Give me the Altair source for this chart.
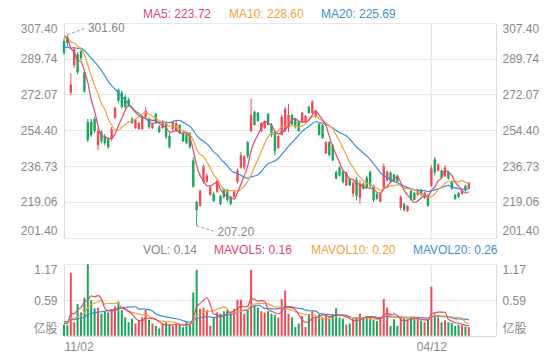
import altair as alt
import pandas as pd

# ---------------- data ----------------
opens = [298.5, 300.5, 273.0, 286.5, 292.0, 293.5, 283.0, 258.5, 258.5, 260.0,
         247.0, 253.5, 251.5, 250.0, 250.0, 260.5, 274.5, 273.0, 271.0, 269.5,
         260.0, 255.5, 255.0, 255.0, 261.0, 260.0, 255.5, 262.5, 256.0, 255.5,
         258.0, 251.5, 255.0, 254.0, 257.0, 253.0, 252.5, 253.0, 239.5, 219.0,
         217.0, 229.0, 229.0, 222.5, 223.0, 224.0, 222.0, 225.5, 225.0, 221.5,
         221.5, 229.0, 236.0, 236.0, 248.5, 254.0, 263.5, 263.0, 254.0, 255.5,
         262.5, 257.0, 253.5, 245.5, 252.0, 254.0, 256.0, 262.0, 260.0, 258.5,
         258.5, 258.5, 266.0, 263.0, 261.0, 257.5, 257.0, 243.0, 248.5, 247.0,
         233.8, 236.0, 233.8, 227.2, 230.5, 223.0, 230.0, 221.0, 228.0, 231.0,
         233.8, 227.0, 223.0, 219.0, 226.0, 229.5, 233.5, 232.5, 232.0, 216.0,
         218.0, 214.5, 224.5, 223.5, 222.5, 225.0, 221.0, 222.0, 227.0, 240.0,
         234.5, 234.5, 231.5, 233.8, 228.8, 222.5, 223.5, 223.0, 227.0, 225.5]
closes = [292.5, 297.5, 277.0, 294.5, 283.0, 290.0, 273.5, 249.5, 252.0, 254.0,
          254.0, 249.0, 248.0, 246.0, 255.0, 265.5, 269.0, 266.0, 266.0, 267.0,
          258.0, 259.5, 258.0, 261.0, 264.0, 256.0, 257.5, 258.0, 253.5, 259.0,
          251.0, 246.0, 258.5, 258.0, 253.0, 249.0, 248.0, 246.0, 226.5, 215.0,
          224.5, 236.5, 232.0, 226.5, 219.5, 229.5, 218.0, 221.5, 220.0, 218.0,
          224.0, 234.5, 242.0, 241.5, 241.5, 262.0, 257.0, 259.0, 258.0, 258.5,
          257.0, 252.0, 244.0, 251.5, 261.0, 265.0, 262.0, 257.5, 256.0, 254.0,
          263.0, 261.5, 263.0, 268.5, 264.0, 252.0, 250.5, 248.5, 242.0, 239.5,
          230.5, 232.0, 228.8, 233.5, 227.2, 228.5, 222.0, 228.0, 225.5, 226.0,
          227.0, 220.0, 220.5, 223.0, 236.5, 234.0, 229.0, 229.0, 229.0, 221.5,
          215.0, 217.0, 220.0, 220.0, 225.0, 222.5, 223.5, 217.0, 235.5, 233.5,
          237.5, 231.0, 236.0, 230.5, 225.5, 220.5, 221.5, 225.0, 224.5, 228.5]
highs = [300.0, 301.6, 282.5, 295.0, 293.0, 294.5, 284.0, 260.0, 260.0, 261.0,
         255.5, 254.5, 252.5, 251.0, 256.0, 266.0, 275.0, 274.0, 272.0, 270.5,
         261.0, 260.0, 258.5, 261.0, 266.0, 261.0, 258.0, 263.0, 257.0, 259.5,
         258.5, 253.0, 259.0, 259.0, 257.5, 254.0, 253.0, 253.5, 241.0, 219.5,
         225.0, 237.5, 233.0, 227.2, 224.0, 230.0, 222.5, 226.0, 225.5, 222.0,
         224.5, 235.4, 243.6, 242.0, 249.0, 270.0, 264.0, 263.5, 258.5, 259.0,
         263.0, 258.0, 254.0, 252.0, 262.0, 266.0, 267.5, 262.5, 260.5, 259.0,
         263.5, 262.0, 266.5, 269.2, 264.5, 258.0, 257.5, 249.0, 249.0, 247.5,
         234.5, 236.5, 234.5, 234.0, 231.0, 229.2, 231.3, 229.6, 228.5, 232.0,
         234.5, 227.5, 223.5, 223.5, 237.9, 234.5, 234.0, 233.0, 232.5, 222.2,
         218.5, 217.3, 225.0, 224.0, 225.5, 225.5, 224.0, 223.0, 237.0, 241.2,
         238.0, 235.0, 237.0, 234.5, 229.5, 223.0, 224.0, 225.5, 227.5, 228.8]
lows = [291.8, 296.0, 271.7, 285.0, 282.0, 289.0, 273.0, 248.6, 251.0, 253.0,
        244.5, 248.0, 247.0, 245.3, 249.0, 260.0, 268.0, 265.0, 265.0, 266.0,
        257.5, 255.0, 254.5, 254.5, 260.0, 255.0, 255.0, 257.5, 253.0, 255.0,
        250.0, 245.3, 254.0, 253.5, 252.5, 248.6, 247.5, 245.3, 226.0, 207.2,
        216.5, 228.0, 228.5, 222.0, 218.9, 223.5, 217.3, 220.5, 218.9, 217.3,
        221.0, 228.0, 235.4, 235.0, 240.5, 253.5, 256.8, 258.5, 253.5, 255.0,
        256.8, 251.0, 242.0, 245.3, 251.9, 253.5, 253.5, 257.0, 255.2, 253.5,
        258.0, 258.0, 262.5, 262.6, 260.5, 251.9, 250.0, 242.8, 241.5, 239.0,
        230.0, 231.5, 228.0, 227.0, 226.8, 221.4, 219.8, 218.1, 225.0, 225.5,
        225.5, 218.9, 220.0, 218.9, 225.5, 229.0, 228.8, 228.8, 228.8, 214.8,
        214.0, 214.0, 219.5, 219.8, 222.0, 222.0, 220.5, 216.5, 226.3, 232.1,
        234.0, 230.5, 231.3, 230.0, 225.0, 220.0, 221.0, 222.5, 224.0, 225.5]
volumes = [0.18, 0.17, 1.03, 0.22, 0.52, 0.38, 0.62, 1.17, 0.58, 0.45,
           0.46, 0.36, 0.40, 0.38, 0.44, 0.48, 0.56, 0.42, 0.30, 0.22,
           0.28, 0.20, 0.24, 0.30, 0.42, 0.26, 0.20, 0.16, 0.12, 0.20,
           0.22, 0.18, 0.16, 0.20, 0.18, 0.14, 0.22, 0.20, 0.71, 1.08,
           0.44, 0.46, 0.42, 0.16, 0.30, 0.38, 0.36, 0.40, 0.42, 0.38,
           0.44, 0.59, 0.59, 0.36, 0.44, 1.08, 0.50, 0.46, 0.40, 0.38,
           0.40, 0.36, 0.34, 0.30, 0.60, 0.74, 0.36, 0.30, 0.14, 0.20,
           0.32, 0.14, 0.35, 0.40, 0.30, 0.35, 0.30, 0.32, 0.28, 0.34,
           0.45, 0.30, 0.28, 0.18, 0.20, 0.28, 0.30, 0.36, 0.28, 0.32,
           0.30, 0.26, 0.24, 0.28, 0.60, 0.46, 0.16, 0.27, 0.16, 0.32,
           0.28, 0.26, 0.30, 0.27, 0.28, 0.24, 0.22, 0.26, 0.80, 0.35,
           0.30, 0.22, 0.25, 0.22, 0.21, 0.16, 0.18, 0.17, 0.15, 0.14]
# sessions before 11/02 (only used to seed the moving averages)
prior_close = [287, 289, 288, 291, 290, 292, 289, 291, 290, 293,
               296, 298, 300, 299, 302, 303, 302, 304, 303.5]
prior_vol = [0.28, 0.25, 0.30, 0.22, 0.26, 0.24, 0.27, 0.23, 0.25, 0.26,
             0.22, 0.24, 0.21, 0.25, 0.22, 0.20, 0.22, 0.19, 0.21]

date_ticks = ["11/02", "04/12"]
date_index = [0, 108]
price_ticks = [201.40, 219.06, 236.73, 254.40, 272.07, 289.74, 307.40]
vol_ticks = [0, 0.585, 1.17]
vol_tick_labels = ["亿股", "0.59", "1.17"]
price_legend = [("MA5", "223.72"), ("MA10", "228.60"), ("MA20", "225.69")]
vol_legend = [("VOL", "0.14"), ("MAVOL5", "0.16"), ("MAVOL10", "0.20"), ("MAVOL20", "0.26")]

# ---------------- derived table ----------------
N = len(closes)


def moving(values, prior, n):
    s = pd.Series(prior + values).rolling(n, min_periods=1).mean()
    return s.iloc[len(prior):].round(3).tolist()


df = pd.DataFrame({
    "i": list(range(N)), "open": opens, "close": closes, "high": highs, "low": lows,
    "vol": volumes, "zero": [0.0] * N,
    "ma5": moving(closes, prior_close, 5), "ma10": moving(closes, prior_close, 10),
    "ma20": moving(closes, prior_close, 20),
    "mv5": moving(volumes, prior_vol, 5), "mv10": moving(volumes, prior_vol, 10),
    "mv20": moving(volumes, prior_vol, 20),
})

# ---------------- style ----------------
W, H = 432, 313
PRICE_H = 214.5
VOL_TOP, VOL_BOT = 241.3, 312.7
X_MAX = 127
FONT = "Liberation Sans, Arial, Noto Sans CJK SC, sans-serif"
UP, DOWN = "#ee4b58", "#1ea35c"
C5, C10, C20 = "#e4486c", "#f5a23b", "#3d8fd6"
GRID, AXIS, LABEL = "#e8e8e8", "#dcdcdc", "#888888"

px_x = W / X_MAX
px_y = PRICE_H / (price_ticks[-1] - price_ticks[0])

xs = alt.Scale(domain=[0, X_MAX], nice=False, zero=False)
ps = alt.Scale(domain=[price_ticks[0], price_ticks[-1]], range=[PRICE_H, 0], nice=False, zero=False)
vs = alt.Scale(domain=[vol_ticks[0], vol_ticks[-1]], range=[VOL_BOT, VOL_TOP], nice=False, zero=False)

x_expr = " : ".join(f"datum.value == {v} ? '{t}'" for v, t in zip(date_index, date_ticks)) + " : ''"
x_axis = alt.Axis(orient="bottom", values=date_index + [X_MAX], labelExpr=x_expr, labelFlush=True,
                  grid=False, ticks=False, domainColor=AXIS, labelColor=LABEL, labelFontSize=12,
                  labelFont=FONT, labelPadding=5, title=None)
X = alt.X("i:Q", scale=xs, axis=x_axis)


def price_axis(orient):
    return alt.Axis(orient=orient, values=price_ticks, format=".2f", grid=(orient == "left"),
                    gridColor=GRID, domainColor=AXIS, ticks=False,
                    labelPadding=7 if orient == "left" else 6, labelFlush=True, labelColor=LABEL,
                    labelFontSize=12, labelFont=FONT, title=None)


v_expr = " : ".join(f"datum.value == {v} ? '{t}'" for v, t in zip(vol_ticks, vol_tick_labels)) + " : ''"


def vol_axis(orient):
    return alt.Axis(orient=orient, values=vol_ticks, labelExpr=v_expr, grid=(orient == "left"),
                    gridColor=GRID, domainColor=AXIS, ticks=False,
                    labelPadding=7 if orient == "left" else 6, labelFlush=True, labelColor=LABEL,
                    labelFontSize=12, labelFont=FONT, title=None)


PL = price_axis("left")
VL = vol_axis("left")
color_cond = alt.condition("datum.close >= datum.open", alt.value(UP), alt.value(DOWN))
base = alt.Chart(df)

# ---------------- price panel ----------------
wick = base.mark_rule(strokeWidth=1).encode(x=X, y=alt.Y("low:Q", scale=ps, axis=PL), y2="high:Q", color=color_cond)
body = base.mark_rule(strokeWidth=2.4).encode(x=X, y=alt.Y("open:Q", scale=ps, axis=PL), y2="close:Q", color=color_cond)
ma_lines = [base.mark_line(strokeWidth=1.2, interpolate="monotone", color=c).encode(
    x=X, y=alt.Y(f"{f}:Q", scale=ps, axis=PL)) for f, c in [("ma20", C20), ("ma10", C10), ("ma5", C5)]]

imax = highs.index(max(highs))
imin = lows.index(min(lows))
ann = pd.DataFrame({
    "i": [imax, imin],
    "p": [highs[imax], lows[imin]],
    "i2": [imax + 18.5 / px_x, imin + 18.8 / px_x],
    "p2": [highs[imax] + 6.7 / px_y, lows[imin] - 5.9 / px_y],
    "t": [f"{highs[imax]:.2f}", f"{lows[imin]:.2f}"],
})
ann_line = alt.Chart(ann).mark_rule(color="#999999", strokeWidth=1, strokeDash=[3, 2]).encode(
    x=X, x2="i2:Q", y=alt.Y("p:Q", scale=ps, axis=PL), y2="p2:Q")
ann_text = alt.Chart(ann).mark_text(align="left", baseline="middle", dx=2, fontSize=12, font=FONT,
                                    color=LABEL).encode(
    x=alt.X("i2:Q", scale=xs, axis=x_axis), y=alt.Y("p2:Q", scale=ps, axis=PL), text="t:N")

price = alt.layer(wick, body, *ma_lines, ann_line, ann_text)
price_r = base.mark_rule(opacity=0).encode(x=X, y=alt.Y("close:Q", scale=ps, axis=price_axis("right")))

# ---------------- volume panel ----------------
vbar = base.mark_rule(strokeWidth=2).encode(x=X, y=alt.Y("vol:Q", scale=vs, axis=VL), y2="zero:Q", color=color_cond)
mv_lines = [base.mark_line(strokeWidth=1.2, interpolate="monotone", color=c).encode(
    x=X, y=alt.Y(f"{f}:Q", scale=vs, axis=VL)) for f, c in [("mv20", C20), ("mv10", C10), ("mv5", C5)]]
vol = alt.layer(vbar, *mv_lines)
vol_r = base.mark_rule(opacity=0).encode(x=X, y=alt.Y("vol:Q", scale=vs, axis=vol_axis("right")))

# ---------------- decorations ----------------
vdf = pd.DataFrame({"i": date_index[1:]})
vline_p = alt.Chart(vdf).mark_rule(color=GRID, strokeWidth=1.5).encode(x=X, y=alt.value(0), y2=alt.value(217))
vline_v = alt.Chart(vdf).mark_rule(color=GRID, strokeWidth=1.5).encode(x=X, y=alt.value(VOL_TOP), y2=alt.value(VOL_BOT))

legend_layers = []
for (name, val), c, px in zip(price_legend, [C5, C10, C20], [79, 165, 257]):
    legend_layers.append(alt.Chart(pd.DataFrame({"t": [f"{name}: {val}"]})).mark_text(
        align="left", baseline="top", fontSize=12, font=FONT, color=c).encode(
        x=alt.value(px), y=alt.value(-14), text="t:N"))
for (name, val), c, px in zip(vol_legend, [LABEL, C5, C10, C20], [79, 150, 247, 349]):
    legend_layers.append(alt.Chart(pd.DataFrame({"t": [f"{name}: {val}"]})).mark_text(
        align="left", baseline="middle", fontSize=12, font=FONT, color=c).encode(
        x=alt.value(px), y=alt.value(227), text="t:N"))

deco = alt.layer(vline_p, vline_v, *legend_layers)

chart = alt.layer(deco, price, price_r, vol, vol_r).resolve_scale(y="independent").properties(
    width=W, height=H,
    padding={"left": 56, "top": 15, "right": 56, "bottom": 20},
    autosize=alt.AutoSizeParams(type="none"),
    background="white",
).configure_view(stroke=None)

chart.save("out.html", embed_options={"renderer": "svg", "actions": False})
